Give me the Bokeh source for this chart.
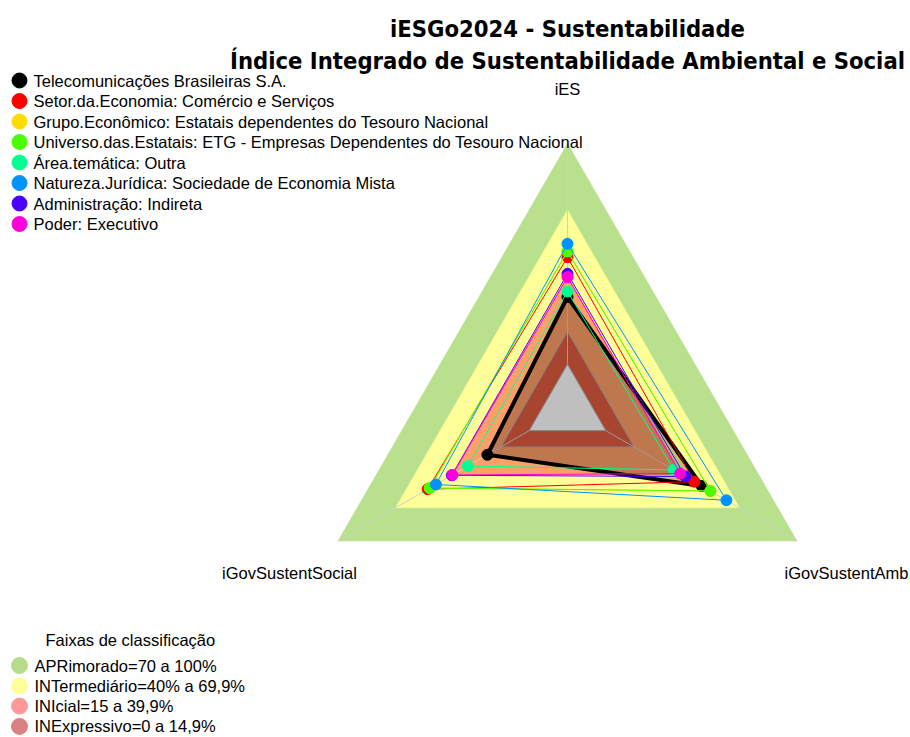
import numpy as np
from bokeh.plotting import figure
from bokeh.models import Range1d, Label
from bokeh.embed import file_html
from bokeh.resources import INLINE

# ---------------- data ----------------
axis_labels = ["iES", "iGovSustentSocial", "iGovSustentAmb"]
series_names = [
    "Telecomunicações Brasileiras S.A.",
    "Setor.da.Economia: Comércio e Serviços",
    "Grupo.Econômico: Estatais dependentes do Tesouro Nacional",
    "Universo.das.Estatais: ETG - Empresas Dependentes do Tesouro Nacional",
    "Área.temática: Outra",
    "Natureza.Jurídica: Sociedade de Economia Mista",
    "Administração: Indireta",
    "Poder: Executivo",
]
series_colors = ["#000000", "#FF0000", "#FFDB00", "#49FF00",
                 "#00FF92", "#0092FF", "#4900FF", "#FF00DB"]
# values per axis (0..1)
ies_vals = [0.305, 0.485, 0.512, 0.512, 0.330, 0.546, 0.410, 0.395]
social_vals = [0.219, 0.531, 0.520, 0.520, 0.321, 0.488, 0.405, 0.402]
amb_vals = [0.502, 0.463, 0.547, 0.547, 0.356, 0.631, 0.416, 0.389]

band_title = "Faixas de classificação"
band_names = ["APRimorado=70 a 100%", "INTermediário=40% a 69,9%",
              "INIcial=15 a 39,9%", "INExpressivo=0 a 14,9%"]
band_upper = [1.0, 0.699, 0.399, 0.149]
band_fill = ["#B9E08C", "#FFFF99", "#FFA068", "#E05C40"]
band_legend_colors = ["#B5DC8A", "#FFFF99", "#FF9999", "#D98080"]

title_lines = ["iESGo2024 - Sustentabilidade",
               "Índice Integrado de Sustentabilidade Ambiental e Social"]

# ---------------- geometry ----------------
UNIT = 265.0
CX, CY = 567.0, 408.0
W, H = 910, 737


def to_data(px, py):
    return (px - CX) / UNIT, (CY - py) / UNIT


angles = np.radians([90.0, 210.0, 330.0])


def rho(v):
    return (1.0 + 5.0 * np.asarray(v, dtype=float)) / 6.0


def poly(vals):
    r = rho(vals)
    return list(r * np.cos(angles)), list(r * np.sin(angles))


p = figure(width=W, height=H, output_backend="svg", toolbar_location=None,
           x_range=Range1d((0 - CX) / UNIT, (W - CX) / UNIT),
           y_range=Range1d((CY - H) / UNIT, CY / UNIT),
           x_axis_location=None, y_axis_location=None, min_border=0)
p.grid.visible = False
p.outline_line_color = None
p.background_fill_color = "white"

# bands
for up, col in zip(band_upper, band_fill):
    xs, ys = poly([up] * 3)
    p.patch(xs, ys, fill_color=col, line_color=col, line_width=0.5)

# grid outline at inner band
xs, ys = poly([band_upper[3]] * 3)
p.patch(xs + [xs[0]], ys + [ys[0]], fill_color=None, line_color="#B8B8B8", line_width=1)
# center gap
xs, ys = poly([0.0] * 3)
p.patch(xs, ys, fill_color="white", line_color="#B8B8B8", line_width=1)

# radial lines
r0, r1 = rho(0.0), rho(1.0)
for a in angles:
    p.line([r0 * np.cos(a), r1 * np.cos(a)], [r0 * np.sin(a), r1 * np.sin(a)],
           line_color="#CFCFCF", line_width=1)

# series
for i, (name, col) in enumerate(zip(series_names, series_colors)):
    xs, ys = poly([ies_vals[i], social_vals[i], amb_vals[i]])
    if i == 0:
        p.patch(xs, ys, fill_color="black", fill_alpha=0.25, line_color=None)
        p.line(xs + [xs[0]], ys + [ys[0]], line_color=col, line_width=4,
               line_join="round")
    else:
        p.line(xs + [xs[0]], ys + [ys[0]], line_color=col, line_width=1)
    p.scatter(xs, ys, size=11, fill_color=col, line_color=col, marker="circle")

FONT = "Liberation Sans"
FS = "16.5px"

# title
for k, (t, base) in enumerate(zip(title_lines, [28, 60])):
    x, y = to_data(567, base)
    p.add_layout(Label(x=x, y=y, text=t, text_align="center",
                       text_baseline="alphabetic", text_font="DejaVu Sans Condensed",
                       text_font_style="bold", text_font_size="23.6px",
                       text_color="black"))

# axis labels
for lab, (px_, py_) in zip(axis_labels, [(567, 88), (289, 572), (846, 572)]):
    x, y = to_data(px_, py_)
    p.add_layout(Label(x=x, y=y, text=lab, text_align="center",
                       text_baseline="middle", text_font=FONT,
                       text_font_size=FS, text_color="black"))

# series legend
leg_x, leg_y = [], []
for i, (name, col) in enumerate(zip(series_names, series_colors)):
    row_y = 80 + 20.5 * i
    x, y = to_data(19, row_y)
    leg_x.append(x)
    leg_y.append(y)
    tx, ty = to_data(33, row_y)
    p.add_layout(Label(x=tx, y=ty, text=name, text_align="left",
                       text_baseline="middle", text_font=FONT,
                       text_font_size=FS, text_color="black"))
p.scatter(leg_x, leg_y, size=15, fill_color=series_colors,
          line_color=series_colors, marker="circle")

# band legend
tx, ty = to_data(45, 639)
p.add_layout(Label(x=tx, y=ty, text=band_title, text_align="left",
                   text_baseline="middle", text_font=FONT,
                   text_font_size=FS, text_color="black"))
bx, by = [], []
for i, name in enumerate(band_names):
    row_y = 665 + 20.3 * i
    x, y = to_data(19, row_y)
    bx.append(x)
    by.append(y)
    tx, ty = to_data(34, row_y)
    p.add_layout(Label(x=tx, y=ty, text=name, text_align="left",
                       text_baseline="middle", text_font=FONT,
                       text_font_size=FS, text_color="black"))
p.scatter(bx, by, size=16, fill_color=band_legend_colors,
          line_color=band_legend_colors, marker="circle")

open("out.html", "w").write(file_html(p, INLINE))
